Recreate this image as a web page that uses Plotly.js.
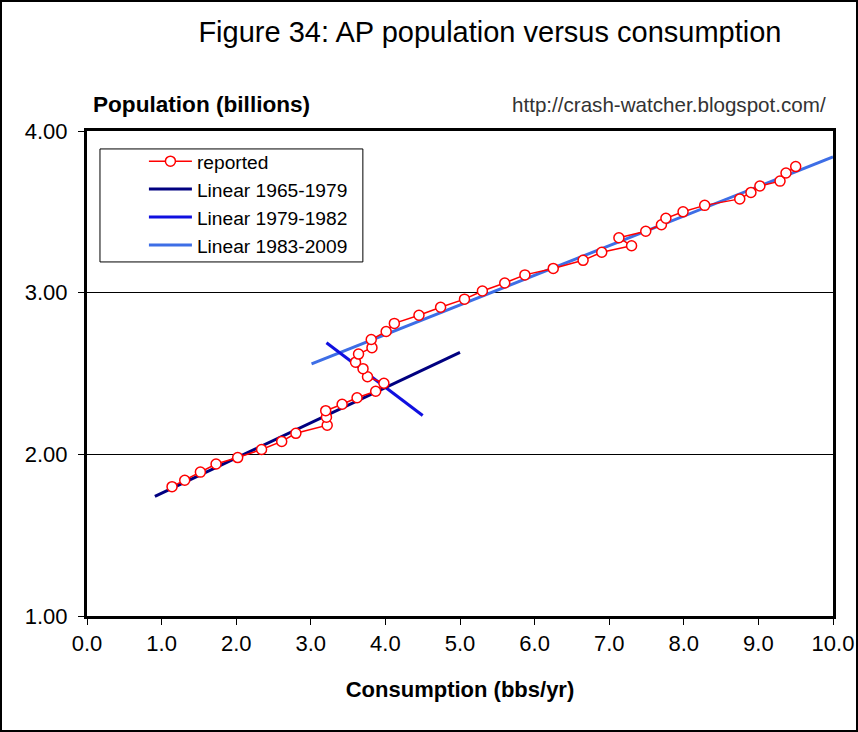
<!DOCTYPE html>
<html>
<head>
<meta charset="utf-8">
<script src="https://cdn.plot.ly/plotly-3.0.1.min.js"></script>
<style>
  html, body { margin: 0; padding: 0; background: #fff; }
  #wrap { position: relative; width: 858px; height: 732px; }
  #chart { width: 858px; height: 732px; }
  #frame { position: absolute; left: 0; top: 0; width: 858px; height: 732px; box-sizing: border-box; border: 2px solid #000; pointer-events: none; }
</style>
</head>
<body>
<div id="wrap"><div id="chart"></div><div id="frame"></div></div>
<script>
// Reported data, 1965-2009: consumption (bbs/yr) and population (billions)
const consumption = [1.14, 1.31, 1.52, 1.73, 2.02, 2.34, 2.61, 2.80, 3.22, 3.21, 3.20, 3.42, 3.62, 3.87, 3.98,
  3.76, 3.70, 3.60, 3.64, 3.82, 3.81, 4.01, 4.12, 4.45, 4.74, 5.06, 5.30, 5.60, 5.87, 6.25,
  6.65, 6.90, 7.30, 7.13, 7.49, 7.70, 7.76, 7.99, 8.28, 8.75, 8.90, 9.02, 9.29, 9.37, 9.50];
const population = [1.80, 1.84, 1.89, 1.94, 1.98, 2.03, 2.08, 2.13, 2.18, 2.23, 2.27, 2.31, 2.35, 2.39, 2.44,
  2.48, 2.53, 2.57, 2.62, 2.66, 2.71, 2.76, 2.81, 2.86, 2.91, 2.96, 3.01, 3.06, 3.11, 3.15,
  3.20, 3.25, 3.29, 3.34, 3.38, 3.42, 3.46, 3.50, 3.54, 3.58, 3.62, 3.66, 3.69, 3.74, 3.78];

// Linear fits (end points)
const fit6579X = [0.91, 5.00];
const fit6579Y = [1.74, 2.63];
const fit7982X = [3.21, 4.50];
const fit7982Y = [2.69, 2.24];
const fit8309X = [3.01, 10.0];
const fit8309Y = [2.56, 3.84];

const seriesNames = ['reported', 'Linear 1965-1979', 'Linear 1979-1982', 'Linear 1983-2009'];
const xTicks = [0, 1, 2, 3, 4, 5, 6, 7, 8, 9, 10];
const yTicks = [1, 2, 3, 4];

const FONT = 'Liberation Sans, Arial, sans-serif';

const traces = [
  { x: fit8309X, y: fit8309Y, mode: 'lines', name: seriesNames[3], line: { color: '#3d6ee6', width: 3 }, legendrank: 4 },
  { x: fit7982X, y: fit7982Y, mode: 'lines', name: seriesNames[2], line: { color: '#1010e0', width: 3 }, legendrank: 3 },
  { x: fit6579X, y: fit6579Y, mode: 'lines', name: seriesNames[1], line: { color: '#000080', width: 3 }, legendrank: 2 },
  { x: consumption, y: population, mode: 'lines+markers', name: seriesNames[0],
    line: { color: '#ff0000', width: 1.5 },
    marker: { symbol: 'circle', size: 10, color: '#ffffff', line: { color: '#ff0000', width: 1.5 } },
    legendrank: 1 }
];

const layout = {
  width: 858, height: 732,
  margin: { l: 87, r: 25, t: 131, b: 116 },
  paper_bgcolor: '#ffffff', plot_bgcolor: '#ffffff',
  font: { family: FONT, size: 22, color: '#000' },
  title: { text: 'Figure 34: AP population versus consumption', x: 0.571, xanchor: 'center', y: 0.956, yanchor: 'middle',
           font: { family: FONT, size: 29, color: '#000' } },
  showlegend: true,
  legend: { x: 0.0763, y: 0.977, xanchor: 'left', yanchor: 'top', bgcolor: 'rgba(0,0,0,0)',
            borderwidth: 0, font: { family: FONT, size: 19.2, color: '#000' },
            traceorder: 'normal', itemwidth: 43 },
  xaxis: { range: [0, 10], tickvals: xTicks, tickformat: '.1f', ticks: 'outside', ticklen: 6, tickwidth: 1, tickcolor: '#000',
           showgrid: false, zeroline: false, showline: true, linecolor: '#000', linewidth: 3, mirror: true,
           tickfont: { family: FONT, size: 22 },
           title: { text: '<b>Consumption (bbs/yr)</b>', font: { family: FONT, size: 22 }, standoff: 27 } },
  yaxis: { range: [1, 4], tickvals: yTicks, tickformat: '.2f', ticks: 'outside', ticklen: 6, tickwidth: 1, tickcolor: '#000',
           showgrid: true, gridcolor: '#000', gridwidth: 1, zeroline: false, showline: true, linecolor: '#000', linewidth: 3, mirror: true,
           ticklabelstandoff: 6, tickfont: { family: FONT, size: 22 } },
  shapes: [
    { type: 'rect', xref: 'paper', yref: 'paper', x0: 0.0174, x1: 0.3698, y0: 0.730, y1: 0.963,
      line: { color: '#000', width: 1 }, fillcolor: 'rgba(0,0,0,0)', layer: 'above' }
  ],
  annotations: [
    { text: '<b>Population (billions)</b>', xref: 'paper', yref: 'paper', x: 0.005, y: 1.055, xanchor: 'left', yanchor: 'middle',
      showarrow: false, font: { family: FONT, size: 22.6, color: '#000' } },
    { text: 'http://crash-watcher.blogspot.com/', xref: 'paper', yref: 'paper', x: 0.993, y: 1.055, xanchor: 'right', yanchor: 'middle',
      showarrow: false, font: { family: FONT, size: 20.6, color: '#333' } }
  ]
};

Plotly.newPlot('chart', traces, layout, { displayModeBar: false, staticPlot: true });
</script>
</body>
</html>
